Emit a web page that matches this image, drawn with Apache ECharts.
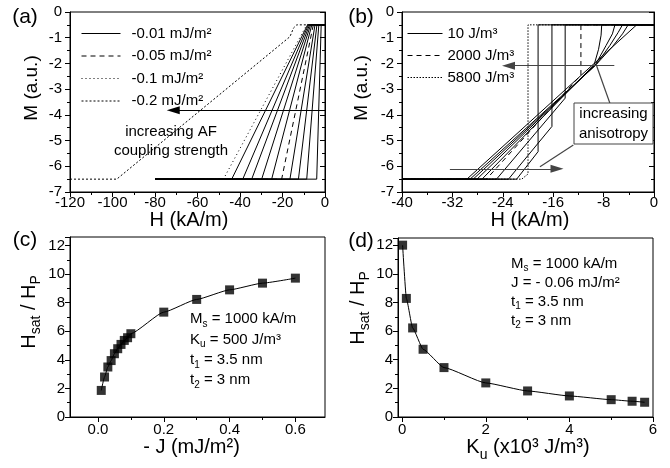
<!DOCTYPE html>
<html><head><meta charset="utf-8">
<script src="https://cdn.jsdelivr.net/npm/echarts@6/dist/echarts.min.js"></script>
<style>html,body{margin:0;padding:0;background:#fff}#c{width:670px;height:468px}</style>
</head><body><div id="c"></div>
<script>
const FONT = "'Liberation Sans', Arial, Helvetica, sans-serif";

// ---------- Panel (a): M(H) for several AF couplings J ----------
const aCurveNames = ['-0.01 mJ/m²','-0.02 mJ/m²','-0.03 mJ/m²','-0.04 mJ/m²','-0.05 mJ/m²',
  '-0.06 mJ/m²','-0.07 mJ/m²','-0.08 mJ/m²','-0.09 mJ/m²','-0.095 mJ/m²','-0.1 mJ/m²','-0.2 mJ/m²'];
const aCurves = [
  [[-80,-6.5],[-3.9,-6.5],[-1.8,-0.5],[0,-0.5]],
  [[-80,-6.5],[-8.6,-6.5],[-2.9,-0.5],[0,-0.5]],
  [[-80,-6.5],[-12.5,-6.5],[-3.8,-0.5],[0,-0.5]],
  [[-80,-6.5],[-16.5,-6.5],[-4.7,-0.5],[0,-0.5]],
  [[-80,-6.5],[-20.4,-6.5],[-5.5,-0.5],[0,-0.5]],
  [[-80,-6.5],[-25.1,-6.5],[-6.2,-0.5],[0,-0.5]],
  [[-80,-6.5],[-29.8,-6.5],[-6.8,-0.5],[0,-0.5]],
  [[-80,-6.5],[-34.5,-6.5],[-7.3,-0.5],[0,-0.5]],
  [[-80,-6.5],[-38.7,-6.5],[-7.8,-0.5],[0,-0.5]],
  [[-80,-6.5],[-43.9,-6.5],[-8.2,-0.5],[0,-0.5]],
  [[-80,-6.5],[-47.8,-6.5],[-8.6,-0.5],[0,-0.5]],
  [[-120,-6.5],[-98,-6.5],[-16.5,-0.96],[-14.8,-0.62],[-13.3,-0.5],[0,-0.5]]
];
const aLegend = ['-0.01 mJ/m²','-0.05 mJ/m²','-0.1 mJ/m²','-0.2 mJ/m²'];
const aArrow = [[0,-3.82],[-71.4,-3.82]];

// ---------- Panel (b): M(H) for several anisotropies Ku ----------
const bCurveNames = ['10 J/m³','100 J/m³','250 J/m³','500 J/m³','1000 J/m³','2000 J/m³',
  '3000 J/m³','4000 J/m³','5000 J/m³','5800 J/m³'];
const bCurves = [
  [[-40,-6.5],[-29.7,-6.5],[-2.75,-0.5],[0,-0.5]],
  [[-40,-6.5],[-29.2,-6.5],[-9.2,-2.05],[-6.6,-1.35],[-5.0,-0.85],[-4.1,-0.5],[0,-0.5]],
  [[-40,-6.5],[-28.7,-6.5],[-9.2,-2.05],[-7.0,-1.3],[-5.7,-0.8],[-5.0,-0.5],[0,-0.5]],
  [[-40,-6.5],[-28.1,-6.5],[-9.3,-2.05],[-7.6,-1.3],[-6.6,-0.85],[-6.2,-0.5],[0,-0.5]],
  [[-40,-6.5],[-27.3,-6.5],[-9.5,-2.05],[-8.8,-1.45],[-8.4,-0.9],[-8.3,-0.5],[0,-0.5]],
  [[-40,-6.5],[-26.6,-6.5],[-11.6,-2.45],[-11.6,-0.5],[0,-0.5]],
  [[-40,-6.5],[-25.0,-6.5],[-14.1,-3.35],[-14.1,-0.5],[0,-0.5]],
  [[-40,-6.5],[-23.1,-6.5],[-16.2,-4.45],[-16.2,-0.5],[0,-0.5]],
  [[-40,-6.5],[-21.8,-6.5],[-18.4,-5.43],[-18.4,-0.5],[0,-0.5]],
  [[-40,-6.5],[-21.0,-6.5],[-20.0,-6.3],[-20.0,-0.5],[0,-0.5]]
];
const bLegend = ['10 J/m³','2000 J/m³','5800 J/m³'];
const bArrowTop = [[-6.3,-2.09],[-23.1,-2.09]];
const bArrowBottom = [[-32.4,-6.1],[-15.4,-6.1]];
const bPointer1 = [[-9.1,-2.1],[-7.0,-3.55]];
const bPointer2 = [[-12.8,-5.17],[-18.1,-6.02]];

// ---------- Panel (c): Hsat/Hp vs -J ----------
const cJ = [0.01,0.02,0.03,0.04,0.05,0.06,0.07,0.08,0.09,0.1,0.2,0.3,0.4,0.5,0.6];
const cRatio = [1.86,2.8,3.5,3.95,4.43,4.78,5.08,5.36,5.55,5.83,7.34,8.23,8.9,9.37,9.72];

// ---------- Panel (d): Hsat/Hp vs Ku ----------
const dKu = [0.01,0.1,0.25,0.5,1,2,3,4,5,5.5,5.8];
const dRatio = [12.0,8.28,6.22,4.73,3.45,2.38,1.82,1.47,1.21,1.1,1.03];

// tick label lists
const cTicks = [0,0.2,0.4,0.6], cMinor = [0.1,0.3,0.5];
const dTicks = [0,2,4,6], dMinor = [1,3,5];

// ---------- styles ----------
const BLACK = '#000';
function dashFor(name){
  if (name === '-0.05 mJ/m²' || name === '2000 J/m³') return [5,4];
  if (name === '-0.1 mJ/m²') return [1,3];
  if (name === '-0.2 mJ/m²') return [2,2];
  if (name === '5800 J/m³') return [1.5,1.5];
  return 'solid';
}
function curve(name, data, gi){
  return {type:'line', name, data, xAxisIndex:gi, yAxisIndex:gi, symbol:'none', silent:true,
    animation:false, itemStyle:{color:BLACK}, lineStyle:{color:BLACK, width:1, type:dashFor(name)}, z:3};
}
function arrowML(pts){
  return [{coord:pts[0], symbol:'none'}, {coord:pts[1], symbol:'triangle', symbolSize:[8,13]}];
}
const axisLineS = {show:true, onZero:false, lineStyle:{color:BLACK, width:1}};
const tickS = {show:true, inside:false, length:5, lineStyle:{color:BLACK, width:1}};
const minorS = {show:true, splitNumber:2, length:3, lineStyle:{color:BLACK, width:1}};
const labS = (m, showMax)=>({show:true, color:BLACK, fontSize:15, fontFamily:FONT, margin:m, showMinLabel:true, showMaxLabel:showMax, hideOverlap:false});
const subRich = (fs, lh, sfs) => ({
  t:{fontSize:fs, fontFamily:FONT, color:BLACK, lineHeight:lh, verticalAlign:'middle'},
  s:{fontSize:sfs, fontFamily:FONT, color:BLACK, lineHeight:Math.round(sfs*0.8), verticalAlign:'bottom'}
});

const series = [];
aCurves.forEach((d,i)=>series.push(curve(aCurveNames[i], d, 0)));
series[0].markLine = {silent:true, animation:false, label:{show:false}, symbol:['none','triangle'],
  lineStyle:{color:BLACK, width:1.2, type:'solid'}, data:[arrowML(aArrow)]};
bCurves.forEach((d,i)=>series.push(curve(bCurveNames[i], d, 1)));
const bFirst = series[aCurves.length];
bFirst.markLine = {silent:true, animation:false, label:{show:false}, symbol:['none','none'],
  lineStyle:{color:'#444', width:1.2, type:'solid'},
  data:[arrowML(bArrowTop), arrowML(bArrowBottom),
        [{coord:bPointer1[0]},{coord:bPointer1[1]}], [{coord:bPointer2[0]},{coord:bPointer2[1]}]]};

series.push({type:'line', name:'fit c', data:cJ.map((x,i)=>[x,cRatio[i]]), xAxisIndex:2, yAxisIndex:2,
  symbol:'none', smooth:0.15, smoothMonotone:'x', silent:true, lineStyle:{color:BLACK,width:1}, z:3});
series.push({type:'scatter', name:'Hsat/Hp (c)', data:cJ.map((x,i)=>[x,cRatio[i]]), xAxisIndex:2, yAxisIndex:2,
  symbol:'rect', symbolSize:9, itemStyle:{color:BLACK}, silent:true, z:4});
series.push({type:'line', name:'fit d', data:dKu.map((x,i)=>[x,dRatio[i]]), xAxisIndex:3, yAxisIndex:3,
  symbol:'none', smooth:0.15, smoothMonotone:'x', silent:true, lineStyle:{color:BLACK,width:1}, z:3});
series.push({type:'scatter', name:'Hsat/Hp (d)', data:dKu.map((x,i)=>[x,dRatio[i]]), xAxisIndex:3, yAxisIndex:3,
  symbol:'rect', symbolSize:9, itemStyle:{color:BLACK}, silent:true, z:4});

const gridBase = {show:true, borderColor:BLACK, borderWidth:1, backgroundColor:'transparent', containLabel:false};
const rich20 = subRich(20, 28, 14);

const option = {
  animation:false,
  backgroundColor:'#fff',
  textStyle:{fontFamily:FONT, color:BLACK},
  grid:[
    Object.assign({left:70, top:12, width:255, height:180}, gridBase),
    Object.assign({left:402, top:12, width:252, height:180}, gridBase),
    Object.assign({left:70, top:237, width:255, height:180}, gridBase),
    Object.assign({left:398, top:238, width:255, height:179}, gridBase)
  ],
  xAxis:[
    {type:'value', gridIndex:0, min:-120, max:0, interval:20, axisLine:axisLineS, axisTick:tickS, minorTick:minorS,
     splitLine:{show:false}, axisLabel:labS(3, true),
     name:'H (kA/m)', nameLocation:'middle', nameGap:9, nameTextStyle:{fontSize:20, fontFamily:FONT, color:BLACK, padding:[0,17,0,0]}},
    {type:'value', gridIndex:1, min:-40, max:0, interval:8, axisLine:axisLineS, axisTick:tickS, minorTick:minorS,
     splitLine:{show:false}, axisLabel:labS(3, true),
     name:'H (kA/m)', nameLocation:'middle', nameGap:9, nameTextStyle:{fontSize:20, fontFamily:FONT, color:BLACK, padding:[0,0,0,4]}},
    {type:'value', gridIndex:2, min:-0.085, max:0.69, axisLine:axisLineS,
     axisTick:Object.assign({}, tickS, {customValues:cTicks}), minorTick:{show:false}, splitLine:{show:false},
     axisLabel:Object.assign(labS(5, true), {customValues:cTicks, formatter:(v)=>v.toFixed(1)}),
     name:'- J (mJ/m²)', nameLocation:'middle', nameGap:15, nameTextStyle:{fontSize:20, fontFamily:FONT, color:BLACK, padding:[0,12,0,0]}},
    {type:'value', gridIndex:3, min:-0.1, max:6, axisLine:axisLineS,
     axisTick:Object.assign({}, tickS, {customValues:dTicks}), minorTick:{show:false}, splitLine:{show:false},
     axisLabel:Object.assign(labS(5, true), {customValues:dTicks}),
     name:'{t|K}{s|u}{t| (x10³ J/m³)}', nameLocation:'middle', nameGap:11,
     nameTextStyle:{fontSize:20, fontFamily:FONT, color:BLACK, padding:[0,0,0,5], rich:rich20}},
    {type:'value', gridIndex:2, min:-0.085, max:0.69, position:'bottom', offset:0, axisLine:{show:false, onZero:false},
     axisTick:{show:true, inside:false, length:3, customValues:cMinor, lineStyle:{color:BLACK}}, axisLabel:{show:false}, splitLine:{show:false}},
    {type:'value', gridIndex:3, min:-0.1, max:6, position:'bottom', offset:0, axisLine:{show:false, onZero:false},
     axisTick:{show:true, inside:false, length:3, customValues:dMinor, lineStyle:{color:BLACK}}, axisLabel:{show:false}, splitLine:{show:false}}
  ],
  yAxis:[
    {type:'value', gridIndex:0, min:-7, max:0, interval:1, axisLine:axisLineS, axisTick:tickS, minorTick:minorS,
     splitLine:{show:false}, axisLabel:labS(8, true),
     name:'M (a.u.)', nameLocation:'middle', nameRotate:90, nameGap:29, nameTextStyle:{fontSize:19, fontFamily:FONT, color:BLACK, padding:[0,0,0,28]}},
    {type:'value', gridIndex:1, min:-7, max:0, interval:1, axisLine:axisLineS, axisTick:tickS, minorTick:minorS,
     splitLine:{show:false}, axisLabel:labS(8, true),
     name:'M (a.u.)', nameLocation:'middle', nameRotate:90, nameGap:31, nameTextStyle:{fontSize:19, fontFamily:FONT, color:BLACK, padding:[0,0,0,28]}},
    {type:'value', gridIndex:2, min:0, max:12.6, interval:2, axisLine:axisLineS, axisTick:tickS, minorTick:minorS,
     splitLine:{show:false}, axisLabel:labS(5, false),
     name:'{t|H}{s|sat}{t| / H}{s|P}', nameLocation:'middle', nameRotate:90, nameGap:27,
     nameTextStyle:{fontSize:20, fontFamily:FONT, color:BLACK, padding:[0,0,0,30], rich:rich20}},
    {type:'value', gridIndex:3, min:0, max:12.5, interval:2, axisLine:axisLineS, axisTick:tickS, minorTick:minorS,
     splitLine:{show:false}, axisLabel:labS(5, false),
     name:'{t|H}{s|sat}{t| / H}{s|P}', nameLocation:'middle', nameRotate:90, nameGap:21,
     nameTextStyle:{fontSize:20, fontFamily:FONT, color:BLACK, padding:[0,0,0,39], rich:rich20}},
    {type:'value', gridIndex:0, min:-7, max:0, interval:1, position:'right', offset:0, axisLine:axisLineS,
     axisTick:Object.assign({}, tickS, {inside:true}), minorTick:minorS, axisLabel:{show:false}, splitLine:{show:false}},
    {type:'value', gridIndex:1, min:-7, max:0, interval:1, position:'right', offset:0, axisLine:axisLineS,
     axisTick:Object.assign({}, tickS, {inside:true}), minorTick:minorS, axisLabel:{show:false}, splitLine:{show:false}}
  ],
  legend:[
    {data:aLegend, orient:'vertical', left:76, top:21, itemWidth:39, itemHeight:14, itemGap:7.5, selectedMode:false,
     itemStyle:{opacity:0}, lineStyle:{width:1},
     textStyle:{fontSize:15, fontFamily:FONT, color:BLACK, lineHeight:14, padding:[0,0,0,6]}},
    {data:bLegend, orient:'vertical', left:402, top:21, itemWidth:35, itemHeight:14, itemGap:7, selectedMode:false,
     itemStyle:{opacity:0}, lineStyle:{width:1},
     textStyle:{fontSize:15, fontFamily:FONT, color:BLACK, lineHeight:14}}
  ],
  series,
  graphic:{elements:[
    {type:'text', x:25, y:17, z:100, style:{text:'(a)', font:'21px '+FONT, fill:BLACK, align:'center', verticalAlign:'middle'}},
    {type:'text', x:361, y:17, z:100, style:{text:'(b)', font:'21px '+FONT, fill:BLACK, align:'center', verticalAlign:'middle'}},
    {type:'text', x:25, y:240, z:100, style:{text:'(c)', font:'21px '+FONT, fill:BLACK, align:'center', verticalAlign:'middle'}},
    {type:'text', x:361, y:241, z:100, style:{text:'(d)', font:'21px '+FONT, fill:BLACK, align:'center', verticalAlign:'middle'}},
    {type:'text', x:171, y:141, z:100, style:{text:'increasing AF\ncoupling strength', font:'15px '+FONT, lineHeight:19, fill:BLACK, align:'center', verticalAlign:'middle'}},
    {type:'rect', z:100, shape:{x:574, y:103, width:79, height:41}, style:{fill:'#fff', stroke:'#444', lineWidth:1}},
    {type:'text', x:613.5, y:124, z:101, style:{text:'increasing\nanisotropy', font:'15px '+FONT, lineHeight:20, fill:BLACK, align:'center', verticalAlign:'middle'}},
    {type:'text', x:190, y:309, z:100, style:{text:'{t|M}{s|s}{t| = 1000 kA/m}\n{t|K}{s|u}{t| = 500 J/m³}\n{t|t}{s|1}{t| = 3.5 nm}\n{t|t}{s|2}{t| = 3 nm}',
      rich:subRich(15, 20.3, 10), align:'left', verticalAlign:'top'}},
    {type:'text', x:511, y:254, z:100, style:{text:'{t|M}{s|s}{t| = 1000 kA/m}\n{t|J = - 0.06 mJ/m²}\n{t|t}{s|1}{t| = 3.5 nm}\n{t|t}{s|2}{t| = 3 nm}',
      rich:subRich(15, 19.1, 10), align:'left', verticalAlign:'top'}}
  ]}
};
const chart = echarts.init(document.getElementById('c'), null, {renderer:'canvas'});
chart.setOption(option);
</script>
</body></html>
